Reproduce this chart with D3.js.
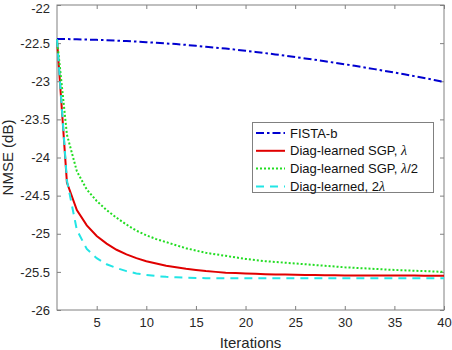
<!DOCTYPE html>
<html>
<head>
<meta charset="utf-8">
<script src="https://cdn.jsdelivr.net/npm/d3@7"></script>
<style>
  body { margin: 0; background: #fff; }
  svg { display: block; font-family: "Liberation Sans", Arial, sans-serif; }
</style>
</head>
<body>
<div id="chart"></div>
<script>
'use strict'

var width = 452;
var height = 350;

// iterations 1..40
var iterations = d3.range(1, 41);

var fistaB = [-22.445, -22.447, -22.450, -22.453, -22.457, -22.462, -22.467, -22.473, -22.480, -22.487,
    -22.495, -22.504, -22.513, -22.523, -22.535, -22.547, -22.559, -22.572, -22.586, -22.600,
    -22.615, -22.631, -22.648, -22.665, -22.683, -22.701, -22.719, -22.738, -22.757, -22.777,
    -22.798, -22.819, -22.841, -22.863, -22.886, -22.909, -22.933, -22.958, -22.983, -23.010];

var sgpLambda = [-22.45, -24.33, -24.69, -24.89, -25.03, -25.13, -25.21, -25.27, -25.32, -25.36,
    -25.39, -25.42, -25.44, -25.46, -25.475, -25.49, -25.50, -25.51, -25.515, -25.52,
    -25.525, -25.53, -25.533, -25.536, -25.538, -25.54, -25.542, -25.544, -25.545, -25.546,
    -25.547, -25.547, -25.548, -25.548, -25.549, -25.549, -25.549, -25.55, -25.55, -25.55];

var sgpHalf = [-22.45, -23.70, -24.18, -24.42, -24.57, -24.69, -24.79, -24.88, -24.96, -25.02,
    -25.07, -25.11, -25.15, -25.19, -25.22, -25.25, -25.27, -25.29, -25.31, -25.33,
    -25.345, -25.36, -25.37, -25.38, -25.39, -25.40, -25.41, -25.42, -25.43, -25.44,
    -25.447, -25.454, -25.461, -25.468, -25.475, -25.48, -25.485, -25.49, -25.495, -25.50];

var diagDouble = [-22.45, -24.30, -24.95, -25.20, -25.32, -25.40, -25.45, -25.49, -25.52, -25.54,
    -25.555, -25.565, -25.572, -25.577, -25.58, -25.582, -25.583, -25.584, -25.584, -25.585,
    -25.585, -25.585, -25.585, -25.585, -25.585, -25.585, -25.585, -25.585, -25.585, -25.585,
    -25.585, -25.585, -25.585, -25.585, -25.585, -25.585, -25.585, -25.585, -25.585, -25.585];

var xTicks = [5, 10, 15, 20, 25, 30, 35, 40];
var yTicks = [-22, -22.5, -23, -23.5, -24, -24.5, -25, -25.5, -26];

var seriesNames = ["FISTA-b", "Diag-learned SGP, ", "Diag-learned SGP, ", "Diag-learned, 2"];
var seriesSuffix = ["", "\u03bb", "\u03bb", "\u03bb"];
var seriesTail = ["", "", "/2", ""];

var series = [
    { values: fistaB, color: "#0000d0", dash: "8,3,2.5,3" },
    { values: sgpLambda, color: "#e00000", dash: null },
    { values: sgpHalf, color: "#22dd22", dash: "2,2" },
    { values: diagDouble, color: "#22e5e5", dash: "8,6" }
];

var plotL = 57, plotR = 444, plotT = 5, plotB = 310;

var svg = d3.select("#chart").append("svg").attr("width", width).attr("height", height);

var x = d3.scaleLinear().domain([1, 40]).range([plotL, plotR]);
var y = d3.scaleLinear().domain([-26, -22]).range([plotB, plotT]);

var axisColor = "#808080";
var textColor = "#262626";

// box
svg.append("rect")
    .attr("x", plotL).attr("y", plotT)
    .attr("width", plotR - plotL).attr("height", plotB - plotT)
    .attr("fill", "none").attr("stroke", axisColor).attr("stroke-width", 1);

var gx = svg.append("g").attr("transform", "translate(0," + plotB + ")")
    .call(d3.axisBottom(x).tickValues(xTicks).tickSizeInner(-4).tickSizeOuter(0).tickPadding(8));
var gxTop = svg.append("g").attr("transform", "translate(0," + plotT + ")")
    .call(d3.axisTop(x).tickValues(xTicks).tickSizeInner(-4).tickSizeOuter(0).tickFormat(""));
var gy = svg.append("g").attr("transform", "translate(" + plotL + ",0)")
    .call(d3.axisLeft(y).tickValues(yTicks).tickSizeInner(-4).tickSizeOuter(0).tickPadding(7)
        .tickFormat(function(d) { return String(d); }));
var gyRight = svg.append("g").attr("transform", "translate(" + plotR + ",0)")
    .call(d3.axisRight(y).tickValues(yTicks).tickSizeInner(-4).tickSizeOuter(0).tickFormat(""));

[gx, gxTop, gy, gyRight].forEach(function(g) {
    g.select(".domain").remove();
    g.selectAll(".tick line").attr("stroke", axisColor);
    g.selectAll(".tick text").attr("fill", textColor).style("font-size", "13px")
        .style("font-family", "'Liberation Sans', Arial, sans-serif");
});
// keep the top label inside the picture
gy.selectAll(".tick text").filter(function(d) { return d === -22; }).attr("dy", "0.56em");

// lines
var line = d3.line()
    .x(function(d, i) { return x(iterations[i]); })
    .y(function(d) { return y(d); });

series.forEach(function(s) {
    svg.append("path")
        .datum(s.values)
        .attr("d", line)
        .attr("fill", "none")
        .attr("stroke", s.color)
        .attr("stroke-width", 2)
        .attr("stroke-dasharray", s.dash);
});

// axis labels
svg.append("text")
    .attr("x", (plotL + plotR) / 2).attr("y", 348)
    .attr("text-anchor", "middle")
    .attr("fill", textColor)
    .style("font-size", "15px")
    .text("Iterations");

svg.append("text")
    .attr("transform", "translate(13," + ((plotT + plotB) / 2) + ") rotate(-90)")
    .attr("text-anchor", "middle")
    .attr("fill", textColor)
    .style("font-size", "15px")
    .text("NMSE (dB)");

// legend
var lg = svg.append("g");
lg.append("rect")
    .attr("x", 252.5).attr("y", 122.5)
    .attr("width", 181).attr("height", 70)
    .attr("fill", "#fff").attr("stroke", axisColor);

series.forEach(function(s, i) {
    var cy = 133 + i * 17.8;
    lg.append("line")
        .attr("x1", 256).attr("x2", 285)
        .attr("y1", cy).attr("y2", cy)
        .attr("stroke", s.color).attr("stroke-width", 2)
        .attr("stroke-dasharray", s.dash);
    var t = lg.append("text")
        .attr("x", 290).attr("y", cy + 4.5)
        .attr("fill", "#111")
        .style("font-size", "13px");
    t.append("tspan").text(seriesNames[i]);
    if (seriesSuffix[i]) {
        t.append("tspan").style("font-style", "italic")
            .style("font-family", "'Liberation Serif', serif")
            .style("font-size", "14px")
            .text(seriesSuffix[i]);
    }
    if (seriesTail[i]) {
        t.append("tspan").text(seriesTail[i]);
    }
});
</script>
</body>
</html>
